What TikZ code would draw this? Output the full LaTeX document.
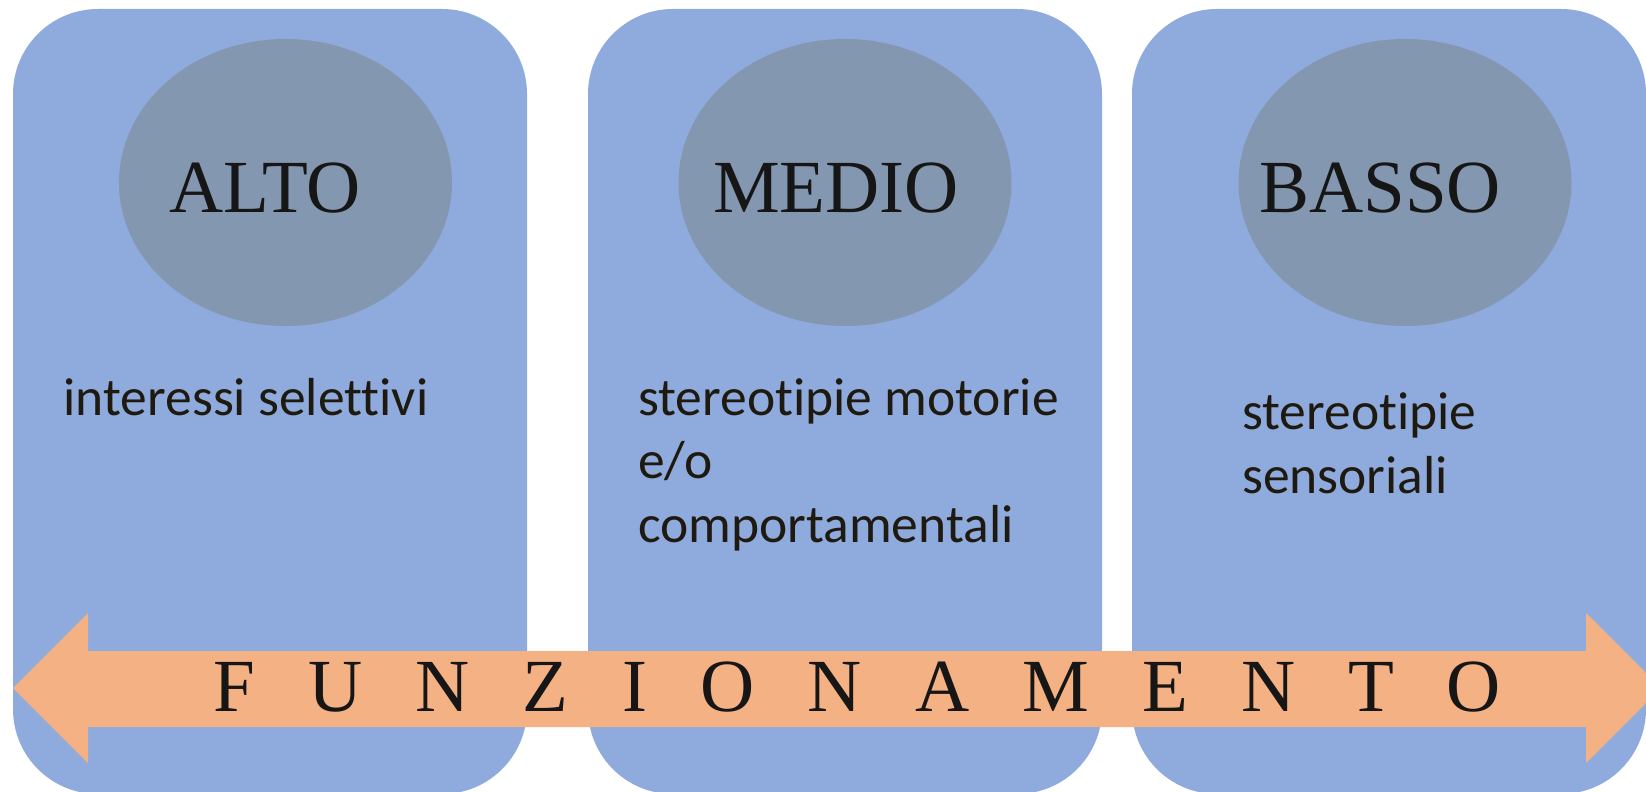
\documentclass[tikz,border=0pt]{standalone}
\usepackage{fontspec}
\setmainfont{Liberation Serif}
\newfontfamily\labelfont[Ligatures={NoCommon}]{Carlito}
\newfontfamily\spacedfont[LetterSpace=71]{Liberation Serif}
\usetikzlibrary{shapes.geometric}
\definecolor{boxblue}{HTML}{8FAADC}
\definecolor{levelgray}{HTML}{8497B0}
\definecolor{arroworange}{HTML}{F4B183}
\definecolor{inkdark}{HTML}{161616}
\definecolor{labelink}{HTML}{1E1A10}

\tikzset{
  column/.style={fill=boxblue,rounded corners=85pt,minimum width=514pt,minimum height=785pt,inner sep=0pt},
  level/.style={ellipse,fill=levelgray,minimum width=333pt,minimum height=287pt,inner sep=0pt},
  leveltext/.style={anchor=base west,inner sep=0pt,text=inkdark,font=\fontsize{75}{90}\selectfont},
  trait/.style={anchor=base west,inner sep=0pt,align=left,text=labelink,font=\labelfont\fontsize{53.5}{63.5}\selectfont},
}

\begin{document}
\begin{tikzpicture}[x=1pt,y=-1pt]
  \useasboundingbox (0,0) rectangle (1646,792);
  \clip (0,0) rectangle (1646,792);
  % colonne
  \node[column] (c1) at (270,401.5) {};
  \node[column] (c2) at (845,401.5) {};
  \node[column] (c3) at (1389,401.5) {};
  % livelli
  \node[level] (e1) at (285.5,182.5) {};
  \node[level] (e2) at (845,182.5) {};
  \node[level] (e3) at (1405,182.5) {};
  \node[leveltext] (alto) at (169,212) {ALTO};
  \node[leveltext] (medio) at (713,212) {MEDIO};
  \node[leveltext] (basso) at (1259,212) {BASSO};
  % comportamenti (base = ultima riga)
  \node[trait] (t1) at (63.5,415) {interessi selettivi};
  \node[trait] (t2) at (638,542) {stereotipie motorie\\e/o\\comportamentali};
  \node[trait] (t3) at (1242,493) {stereotipie\\sensoriali};
  % freccia
  \fill[arroworange] (13,688) -- (88,613) -- (88,651) -- (1586,651) -- (1586,613)
    -- (1661,688) -- (1586,763) -- (1586,727) -- (88,727) -- (88,763) -- cycle;
  \node[anchor=base west,inner sep=0pt,text=inkdark,font=\spacedfont\fontsize{75}{90}\selectfont] (funz) at (213,711) {FUNZIONAMENTO};
\end{tikzpicture}
\end{document}
